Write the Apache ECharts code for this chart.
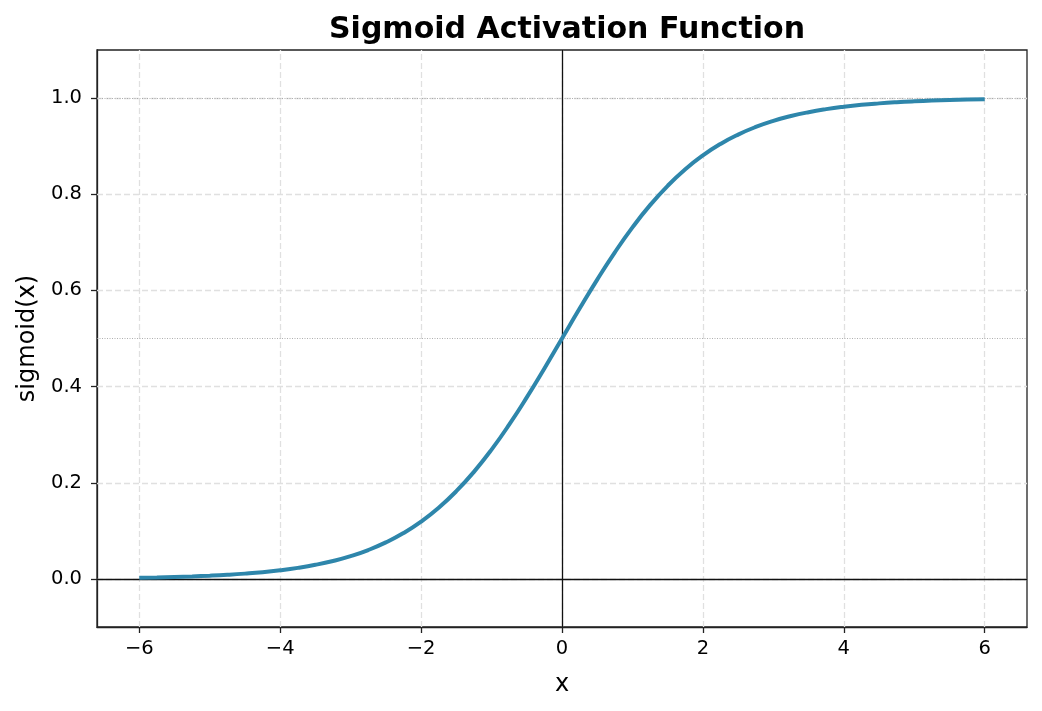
<!DOCTYPE html>
<html>
<head>
<meta charset="utf-8">
<script src="https://cdn.jsdelivr.net/npm/echarts@6/dist/echarts.min.js"></script>
<style>
  html, body { margin: 0; padding: 0; background: #fff; }
  #chart { width: 1042px; height: 711px; }
</style>
</head>
<body>
<div id="chart"></div>
<script>
// values, x from -6 to 6
var xValues = [-6, -5.75, -5.5, -5.25, -5, -4.75, -4.5, -4.25, -4, -3.75, -3.5, -3.25, -3,
  -2.75, -2.5, -2.25, -2, -1.75, -1.5, -1.25, -1, -0.75, -0.5, -0.25, 0,
  0.25, 0.5, 0.75, 1, 1.25, 1.5, 1.75, 2, 2.25, 2.5, 2.75, 3,
  3.25, 3.5, 3.75, 4, 4.25, 4.5, 4.75, 5, 5.25, 5.5, 5.75, 6];
var sigmoidValues = [0.0025, 0.0032, 0.0041, 0.0052, 0.0067, 0.0086, 0.0110, 0.0140, 0.0180, 0.0230, 0.0293, 0.0373, 0.0474,
  0.0601, 0.0759, 0.0953, 0.1192, 0.1480, 0.1824, 0.2227, 0.2689, 0.3208, 0.3775, 0.4378, 0.5,
  0.5622, 0.6225, 0.6792, 0.7311, 0.7773, 0.8176, 0.8520, 0.8808, 0.9047, 0.9241, 0.9399, 0.9526,
  0.9627, 0.9707, 0.9770, 0.9820, 0.9860, 0.9890, 0.9914, 0.9933, 0.9948, 0.9959, 0.9968, 0.9975];
var xTicks = [-6, -4, -2, 0, 2, 4, 6];
var yTicks = [0, 0.2, 0.4, 0.6, 0.8, 1.0];
var refLines = [1.0, 0.5];

var font = 'DejaVu Sans';
var ink = '#222';

function fmtX(v) {
  return v < 0 ? '\u2212' + Math.abs(v) : String(v);
}

var chart = echarts.init(document.getElementById('chart'));

var gridMarks = [];
xTicks.forEach(function (v) { gridMarks.push({ xAxis: v }); });
yTicks.forEach(function (v) { gridMarks.push({ yAxis: v }); });

var curve = xValues.map(function (x, i) { return [x, sigmoidValues[i]]; });

chart.setOption({
  animation: false,
  backgroundColor: '#fff',
  title: {
    text: 'Sigmoid Activation Function',
    left: 562,
    textAlign: 'center',
    top: 10,
    textStyle: { fontFamily: font, fontWeight: 'bold', fontSize: 30, color: '#000' }
  },
  grid: {
    left: 97, right: 15, top: 50, bottom: 84,
    show: true, borderColor: ink, borderWidth: 1.3, backgroundColor: 'transparent'
  },
  xAxis: {
    type: 'value',
    min: -6.6, max: 6.6,
    name: 'x',
    nameLocation: 'middle',
    nameGap: 46,
    nameTextStyle: { fontFamily: font, fontSize: 24, color: '#000' },
    axisLine: { show: true, onZero: false, lineStyle: { color: ink, width: 1.3 } },
    axisTick: { show: true, length: 6, lineStyle: { color: ink, width: 1.3 }, customValues: xTicks },
    axisLabel: {
      customValues: xTicks, margin: 12,
      fontFamily: font, fontSize: 19.5, color: '#000',
      formatter: fmtX
    },
    splitLine: { show: false }
  },
  yAxis: {
    type: 'value',
    min: -0.1, max: 1.1,
    name: 'sigmoid(x)',
    nameLocation: 'middle',
    nameGap: 57,
    nameTextStyle: { fontFamily: font, fontSize: 24, color: '#000' },
    axisLine: { show: true, onZero: false, lineStyle: { color: ink, width: 1.3 } },
    axisTick: { show: true, length: 6, lineStyle: { color: ink, width: 1.3 }, customValues: yTicks },
    axisLabel: {
      customValues: yTicks, margin: 15,
      fontFamily: font, fontSize: 19.5, color: '#000',
      formatter: function (v) { return v.toFixed(1); }
    },
    splitLine: { show: false }
  },
  series: [
    {
      // grid lines
      type: 'line', data: [], silent: true, z: 1,
      markLine: {
        silent: true, symbol: 'none', animation: false,
        label: { show: false },
        lineStyle: { color: '#e0e0e0', width: 1.3, type: [6, 3] },
        data: gridMarks
      }
    },
    {
      // reference dotted lines
      type: 'line', data: [], silent: true, z: 2,
      markLine: {
        silent: true, symbol: 'none', animation: false,
        label: { show: false },
        lineStyle: { color: '#9a9a9a', width: 0.8, type: [1, 1.5] },
        data: refLines.map(function (v) { return { yAxis: v }; })
      }
    },
    {
      // axes through origin
      type: 'line', data: [], silent: true, z: 3,
      markLine: {
        silent: true, symbol: 'none', animation: false,
        label: { show: false },
        lineStyle: { color: '#111', width: 1.3, type: 'solid' },
        data: [{ yAxis: 0 }, { xAxis: 0 }]
      }
    },
    {
      type: 'line',
      data: curve,
      smooth: true,
      showSymbol: false,
      z: 5,
      lineStyle: { color: '#2E86AB', width: 4 }
    }
  ]
});
</script>
</body>
</html>
